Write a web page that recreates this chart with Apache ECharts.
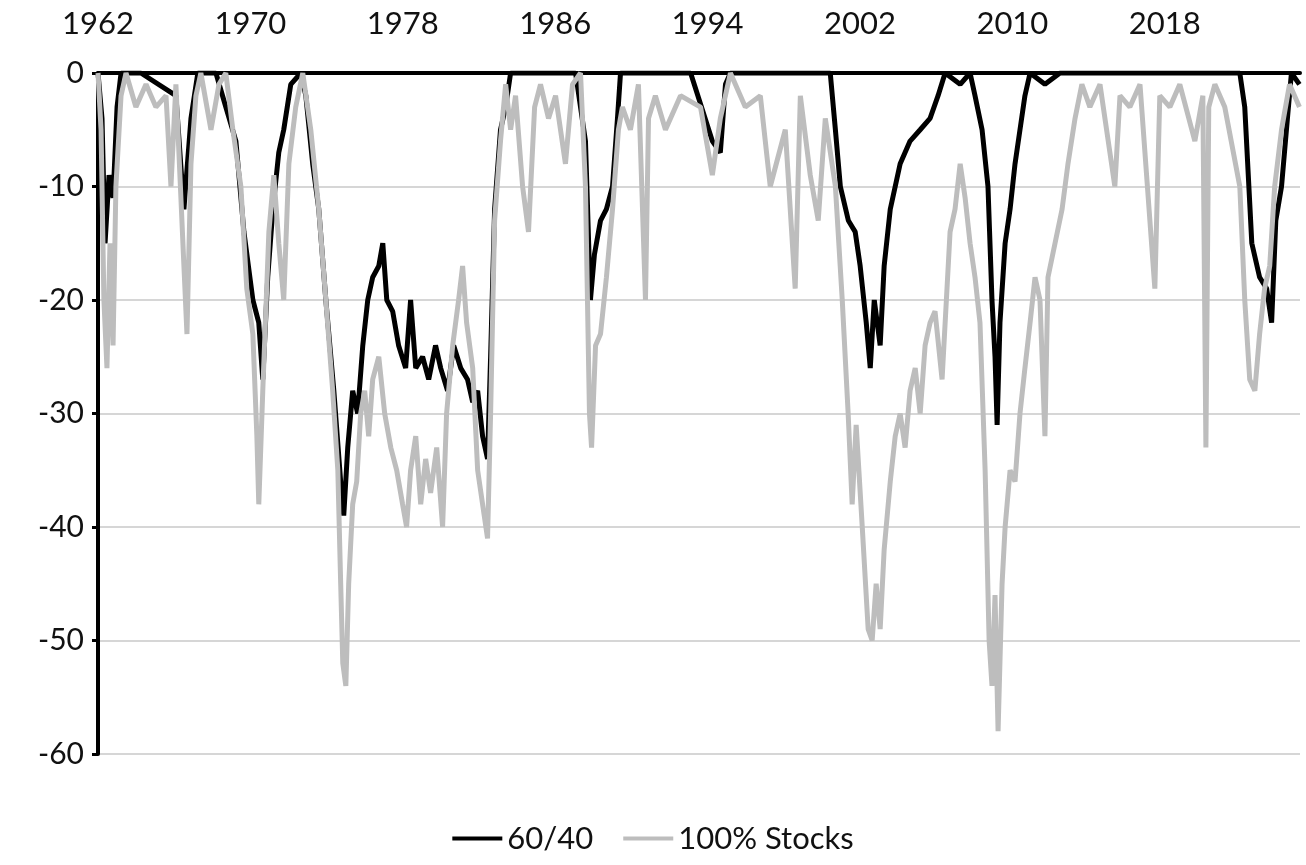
<!DOCTYPE html>
<html><head><meta charset="utf-8">
<script src="https://cdn.jsdelivr.net/npm/echarts@6/dist/echarts.min.js"></script>
<style>html,body{margin:0;padding:0;background:#fff}#c{width:1306px;height:865px}</style>
</head><body><div id="c"></div>
<script>
const yearTicks = [1962,1970,1978,1986,1994,2002,2010,2018];
const yTicks = [0,-10,-20,-30,-40,-50,-60];
const seriesNames = ['60/40','100% Stocks'];
const years6040 = [1962.00,1962.21,1962.37,1962.58,1962.79,1963.00,1963.21,1964.25,1966.09,1966.51,1966.88,1967.24,1968.19,1968.71,1969.24,1969.66,1970.13,1970.44,1970.65,1970.91,1971.18,1971.49,1971.75,1972.12,1972.65,1972.91,1973.27,1973.59,1973.96,1974.38,1974.74,1974.90,1975.11,1975.37,1975.63,1975.90,1976.16,1976.42,1976.74,1976.95,1977.16,1977.47,1977.78,1978.15,1978.41,1978.68,1979.04,1979.36,1979.72,1979.99,1980.35,1980.67,1981.04,1981.40,1981.67,1981.93,1982.19,1982.45,1982.61,1982.82,1983.13,1983.40,1983.66,1987.07,1987.59,1987.85,1988.06,1988.38,1988.69,1989.01,1989.27,1989.43,1990.48,1993.11,1994.25,1994.67,1994.94,1995.20,2000.44,2000.71,2000.97,2001.39,2001.75,2002.01,2002.33,2002.54,2002.75,2003.06,2003.27,2003.59,2003.85,2004.11,2004.63,2005.16,2005.68,2006.10,2006.47,2007.26,2007.78,2008.04,2008.41,2008.72,2008.93,2009.09,2009.20,2009.35,2009.62,2009.88,2010.14,2010.40,2010.66,2010.93,2011.71,2012.50,2021.94,2022.20,2022.57,2022.98,2023.35,2023.61,2023.83,2024.13,2024.44,2024.65,2025.07];
const values6040 = [0,-4,-15,-9,-11,-3,0,0,-2,-12,-4,0,0,-3,-6,-14,-20,-22,-27,-18,-12,-7,-5,-1,0,-2,-8,-12,-20,-28,-36,-39,-33,-28,-30,-24,-20,-18,-17,-15,-20,-21,-24,-26,-20,-26,-25,-27,-24,-26,-28,-24,-26,-27,-29,-28,-32,-34,-25,-12,-5,-3,0,0,-6,-20,-16,-13,-12,-10,-4,0,0,0,-6,-7,-1,0,0,-5,-10,-13,-14,-17,-22,-26,-20,-24,-17,-12,-10,-8,-6,-5,-4,-2,0,-1,0,-2,-5,-10,-20,-25,-31,-22,-15,-12,-8,-5,-2,0,-1,0,0,-3,-15,-18,-19,-22,-13,-10,-4,0,-1];
const yearsStocks = [1962.00,1962.16,1962.31,1962.47,1962.63,1962.79,1962.94,1963.21,1963.47,1963.99,1964.52,1965.04,1965.57,1965.83,1966.09,1966.51,1966.67,1966.88,1967.14,1967.40,1967.93,1968.35,1968.71,1969.08,1969.50,1969.81,1970.13,1970.34,1970.44,1970.65,1970.97,1971.23,1971.49,1971.75,1972.02,1972.38,1972.75,1973.17,1973.59,1973.96,1974.32,1974.59,1974.74,1974.85,1975.01,1975.16,1975.37,1975.58,1975.79,1976.00,1976.21,1976.42,1976.74,1977.05,1977.37,1977.68,1977.99,1978.20,1978.41,1978.68,1978.94,1979.20,1979.46,1979.78,1980.09,1980.30,1980.62,1980.93,1981.14,1981.35,1981.67,1981.93,1982.19,1982.45,1982.61,1982.82,1983.13,1983.40,1983.66,1983.92,1984.29,1984.60,1984.92,1985.23,1985.65,1986.02,1986.54,1986.91,1987.33,1987.59,1987.80,1987.91,1988.12,1988.38,1988.69,1989.01,1989.32,1989.53,1989.95,1990.37,1990.74,1990.90,1991.26,1991.79,1992.58,1993.63,1994.25,1994.67,1995.20,1995.98,1996.77,1997.29,1998.08,1998.60,1998.87,1999.39,1999.81,2000.18,2000.71,2001.07,2001.38,2001.59,2001.80,2002.12,2002.43,2002.64,2002.85,2003.06,2003.27,2003.59,2003.85,2004.11,2004.37,2004.63,2004.90,2005.16,2005.42,2005.68,2005.94,2006.31,2006.73,2006.99,2007.26,2007.52,2007.78,2008.04,2008.30,2008.57,2008.78,2008.93,2009.09,2009.25,2009.46,2009.62,2009.88,2010.14,2010.40,2010.66,2010.93,2011.19,2011.45,2011.71,2011.87,2012.24,2012.61,2012.92,2013.29,2013.65,2014.07,2014.60,2015.38,2015.65,2016.17,2016.70,2017.48,2017.74,2018.27,2018.79,2019.58,2020.00,2020.16,2020.31,2020.63,2021.15,2021.94,2022.20,2022.46,2022.73,2022.98,2023.24,2023.51,2023.77,2024.13,2024.55,2025.07];
const valuesStocks = [0,-5,-20,-26,-15,-24,-10,-2,0,-3,-1,-3,-2,-10,-1,-17,-23,-8,-2,0,-5,-1,0,-5,-10,-19,-23,-32,-38,-28,-14,-9,-15,-20,-8,-3,0,-5,-12,-20,-28,-35,-45,-52,-54,-45,-38,-36,-30,-28,-32,-27,-25,-30,-33,-35,-38,-40,-35,-32,-38,-34,-37,-33,-40,-30,-24,-20,-17,-22,-26,-35,-38,-41,-30,-13,-6,-1,-5,-2,-10,-14,-3,-1,-4,-2,-8,-1,0,-10,-30,-33,-24,-23,-18,-12,-5,-3,-5,-1,-20,-4,-2,-5,-2,-3,-9,-4,0,-3,-2,-10,-5,-19,-2,-9,-13,-4,-10,-20,-30,-38,-31,-40,-49,-50,-45,-49,-42,-36,-32,-30,-33,-28,-26,-30,-24,-22,-21,-27,-14,-12,-8,-11,-15,-18,-22,-35,-50,-54,-46,-58,-45,-40,-35,-36,-30,-26,-22,-18,-20,-32,-18,-15,-12,-8,-4,-1,-3,-1,-10,-2,-3,-1,-19,-2,-3,-1,-6,-2,-33,-3,-1,-3,-10,-20,-27,-28,-23,-19,-17,-10,-5,-1,-3];

const pairs = (xs, ys) => xs.map((x,i)=>[x, ys[i]]);
const font = 'Lato, "Noto Sans", sans-serif';
const chart = echarts.init(document.getElementById('c'));
chart.setOption({
  animation:false,
  grid:{left:98,right:6,top:73,bottom:111},
  legend:{bottom:6,left:'center',itemWidth:50,itemHeight:4,itemGap:30,
    textStyle:{fontSize:31,color:'#111',fontFamily:font},
    data:[{name:seriesNames[0],icon:'rect'},{name:seriesNames[1],icon:'rect'}]},
  xAxis:{type:'value',position:'top',min:1962,max:2025.1,interval:8,
    axisLine:{show:true,lineStyle:{color:'#000',width:4}},
    axisTick:{show:false},splitLine:{show:false},
    axisLabel:{fontSize:31,color:'#111',fontFamily:font,margin:34,
      formatter:v=>yearTicks.includes(v)?String(v):'',showMaxLabel:false}},
  yAxis:{type:'value',min:-60,max:0,interval:10,
    axisLine:{show:true,onZero:false,lineStyle:{color:'#000',width:4}},
    axisTick:{show:true,length:6,lineStyle:{color:'#000',width:3}},
    splitLine:{show:true,lineStyle:{color:'#c8c8c8',width:1.5}},
    axisLabel:{fontSize:30,color:'#111',fontFamily:font,margin:14,
      formatter:v=>yTicks.includes(v)?String(v):''}},
  series:[
    {name:seriesNames[0],type:'line',data:pairs(years6040,values6040),symbol:'none',
      lineStyle:{color:'#000',width:5},itemStyle:{color:'#000'},z:2},
    {name:seriesNames[1],type:'line',data:pairs(yearsStocks,valuesStocks),symbol:'none',
      lineStyle:{color:'#bdbdbd',width:5},itemStyle:{color:'#bdbdbd'},z:3}
  ]
});
</script></body></html>
